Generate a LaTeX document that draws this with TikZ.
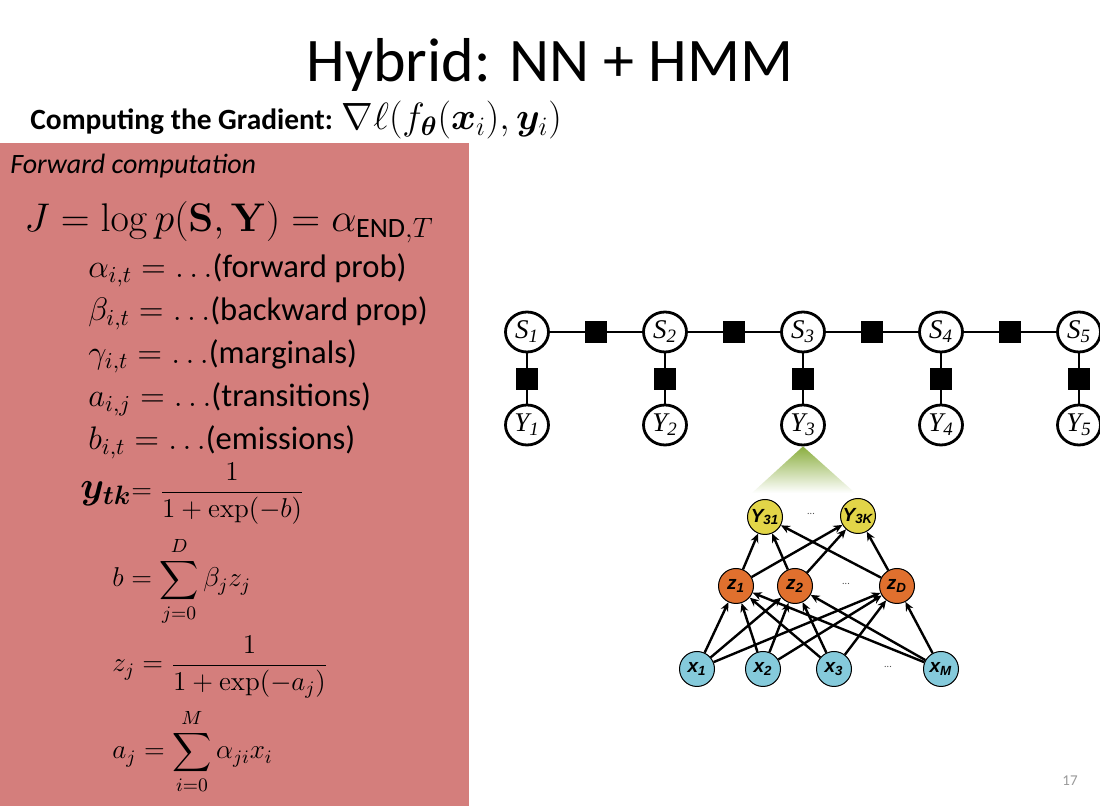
\documentclass[tikz,border=0pt]{standalone}
\usepackage{fix-cm}
\usepackage{amsmath}
\usepackage{amssymb}
\usepackage{bm}
\usepackage[no-math]{fontspec}
\setmainfont{Carlito}
\newfontfamily\gmfont{Liberation Serif}
\newfontfamily\nnfont{Liberation Sans}
\usetikzlibrary{shapes.geometric, arrows.meta, positioning, calc}
\definecolor{panelred}{HTML}{D47E7C}
\definecolor{outyellow}{HTML}{E2D548}
\definecolor{hidorange}{HTML}{E0702E}
\definecolor{inblue}{HTML}{85CADB}
\definecolor{conegreen}{HTML}{8AAE3E}
\definecolor{pagegray}{HTML}{9A9A9A}

\begin{document}
\begin{tikzpicture}[
  x=0.5pt, y=-0.5pt,
  txt/.style={anchor=base west, inner sep=0pt},
  roweq/.style={txt, font=\fontsize{16.3}{19}\selectfont},
  bigeq/.style={txt, font=\fontsize{13.6}{16}\selectfont},
  var/.style={ellipse, draw, line width=1.4pt, fill=white,
              minimum width=21.5pt, minimum height=20pt, inner sep=0pt,
              font=\gmfont\itshape\fontsize{13.5}{13.5}\selectfont},
  fac/.style={rectangle, fill=black, minimum size=11pt, inner sep=0pt},
  edge/.style={line width=1.1pt},
  unit/.style={circle, draw, line width=0.5pt, minimum size=17.5pt, inner sep=0pt,
               font=\nnfont\bfseries\itshape\fontsize{9.5}{9.5}\selectfont},
  link/.style={-{Stealth[length=4.5pt,width=4pt]}, line width=1.2pt},
  gap/.style={font=\fontsize{5}{5}\selectfont, text=black!70},
]
% page and panel
\fill[white] (0,0) rectangle (1100,806);
\useasboundingbox (0,0) rectangle (1100,806);
\fill[panelred] (0,143) rectangle (469,806);

% headings
\node[anchor=base, inner sep=0pt, font=\fontsize{31}{36}\selectfont] (title) at (550,82) {Hybrid: NN + HMM};
\node[txt, font=\fontsize{14.7}{17}\selectfont] (grad) at (30,130)
  {\textbf{Computing the Gradient:} {\fontsize{19}{22}\selectfont$\nabla\ell(f_{\bm{\theta}}(\bm{x}_i),\bm{y}_i)$}};
\node[txt, font=\fontsize{14}{17}\selectfont\itshape] (fwd) at (10,174) {Forward computation};

% forward equations
\node[txt, font=\fontsize{20}{24}\selectfont] (eqj) at (24,232)
  {$J = \log p(\mathbf{S},\mathbf{Y}) = \alpha_{\text{END},T}$};
\node[roweq] (row0) at (88,278) {$\alpha_{i,t} = \ldots$(forward prob)};
\node[roweq] (row1) at (88,321) {$\beta_{i,t} = \ldots$(backward prop)};
\node[roweq] (row2) at (88,364) {$\gamma_{i,t} = \ldots$(marginals)};
\node[roweq] (row3) at (88,407) {$a_{i,j} = \ldots$(transitions)};
\node[roweq] (row4) at (88,450) {$b_{i,t} = \ldots$(emissions)};
\node[bigeq] (eqy) at (80,499)
  {{\fontsize{19}{22}\selectfont$\bm{y}_{\bm{tk}}$}$= \dfrac{1}{1+\exp(-b)}$};
\node[bigeq] (eqb) at (112,587)
  {$\displaystyle b = \sum_{j=0}^{D}\beta_j z_j$};
\node[bigeq] (eqz) at (112,672)
  {$z_j = \dfrac{1}{1+\exp(-a_j)}$};
\node[bigeq] (eqa) at (112,759)
  {$\displaystyle a_j = \sum_{i=0}^{M}\alpha_{ji}x_i$};

% HMM factor graph
\foreach \i/\x in {1/527,2/665,3/803,4/941,5/1079} {
  \node[var] (st\i) at (\x,332) {S\textsubscript{\i}};
  \node[var] (obs\i) at (\x,425) {Y\textsubscript{\i}};
  \node[fac] (em\i) at (\x,379) {};
  \draw[edge] (st\i) -- (em\i) -- (obs\i);
}
\foreach \i/\j in {1/2,2/3,3/4,4/5} {
  \node[fac] (tr\i) at ($(st\i)!0.5!(st\j)$) {};
  \draw[edge] (st\i) -- (tr\i) -- (st\j);
}

% cone down to the network
\coordinate (conel) at (752,493);
\coordinate (coner) at (855,493);
\shade[top color=conegreen, bottom color=white] (obs3.south) -- (conel) -- (coner) -- cycle;

% neural network
\node[unit, fill=outyellow] (out1) at (765,517) {Y\textsubscript{31}};
\node[unit, fill=outyellow] (outk) at (858,516) {Y\textsubscript{3K}};
\node[gap] (outdots) at (811,514) {...};
\node[unit, fill=hidorange] (hid1) at (736,586) {z\textsubscript{1}};
\node[unit, fill=hidorange] (hid2) at (795,586) {z\textsubscript{2}};
\node[unit, fill=hidorange] (hidd) at (897,586) {z\textsubscript{D}};
\node[gap] (hiddots) at (846,584) {...};
\node[unit, fill=inblue] (in1) at (697,669) {x\textsubscript{1}};
\node[unit, fill=inblue] (in2) at (763,669) {x\textsubscript{2}};
\node[unit, fill=inblue] (in3) at (834,669) {x\textsubscript{3}};
\node[unit, fill=inblue] (inm) at (941,669) {x\textsubscript{M}};
\node[gap] (indots) at (888,667) {...};
\foreach \h in {hid1,hid2,hidd}
  \foreach \o in {out1,outk}
    \draw[link] (\h) -- (\o);
\foreach \n in {in1,in2,in3,inm}
  \foreach \h in {hid1,hid2,hidd}
    \draw[link] (\n) -- (\h);

% slide number
\node[anchor=base east, inner sep=0pt, font=\fontsize{7.5}{9}\selectfont, text=pagegray] (page) at (1078,786) {17};
\end{tikzpicture}
\end{document}
